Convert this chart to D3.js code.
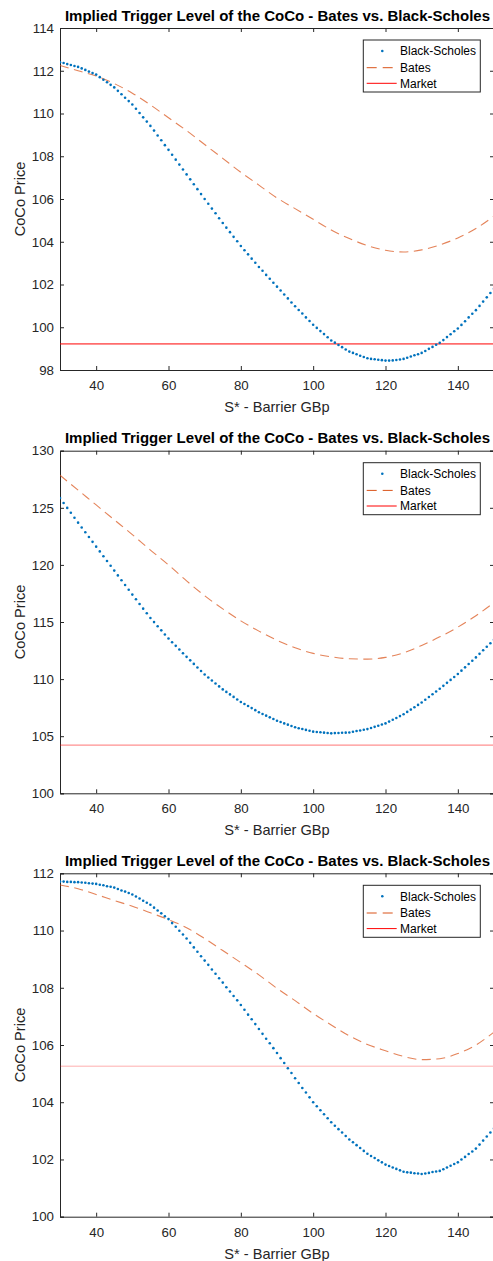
<!DOCTYPE html>
<html><head><meta charset="utf-8">
<script src="https://cdn.jsdelivr.net/npm/d3@7"></script>
<style>
html,body{margin:0;padding:0;background:#fff;}
svg{display:block;font-family:"Liberation Sans",Arial,Helvetica,sans-serif;}
</style></head>
<body>
<script>
// ---- data ----
const title = "Implied Trigger Level of the CoCo - Bates vs. Black-Scholes";
const xLabel = "S* - Barrier GBp";
const yLabel = "CoCo Price";
const seriesNames = ["Black-Scholes", "Bates", "Market"];
const bsX = d3.range(30, 151, 1);      // barrier grid for Black-Scholes dots
const batesX = d3.range(30, 151, 5);   // barrier grid for Bates curve
const xTicks = [40, 60, 80, 100, 120, 140];

const bs1 = [112.40,112.36,112.31,112.27,112.22, 112.18,112.11,112.04,111.96,111.89,
 111.82,111.70,111.58,111.46,111.34, 111.22,111.06,110.90,110.74,110.58,
 110.42,110.22,110.02,109.82,109.62, 109.42,109.20,108.97,108.75,108.52,
 108.30,108.07,107.84,107.61,107.38, 107.15,106.92,106.69,106.46,106.23,
 106.00,105.78,105.55,105.33,105.10, 104.88,104.66,104.45,104.23,104.02,
 103.80,103.60,103.41,103.21,103.02, 102.82,102.64,102.45,102.27,102.08,
 101.90,101.72,101.53,101.35,101.16, 100.98,100.81,100.64,100.46,100.29,
 100.12,99.97,99.82,99.68,99.53, 99.38,99.28,99.17,99.07,98.96,
 98.86,98.80,98.74,98.67,98.61, 98.55,98.52,98.50,98.48,98.46,
 98.44,98.44,98.45,98.47,98.49, 98.52,98.57,98.63,98.69,98.74,
 98.80,98.89,98.99,99.08,99.18, 99.27,99.40,99.54,99.67,99.81,
 99.94,100.11,100.28,100.46,100.63, 100.80,101.00,101.20,101.40,101.60, 101.80];
const bates1 = [112.25,112.00,111.75,111.40,110.95,110.40,109.80,109.20,108.55,107.90,107.25,106.65,
 106.05,105.55,105.05,104.55,104.15,103.82,103.60,103.52,103.62,103.85,104.18,104.62,105.20];
const market1 = 99.22;
const yTicks1 = [98,100,102,104,106,108,110,112,114];

const bs2 = [125.85,125.42,124.99,124.56,124.13, 123.70,123.28,122.86,122.44,122.02,
 121.60,121.18,120.76,120.34,119.92, 119.50,119.08,118.66,118.24,117.82,
 117.40,116.99,116.58,116.17,115.76, 115.35,114.99,114.63,114.27,113.91,
 113.55,113.23,112.91,112.59,112.27, 111.95,111.64,111.33,111.02,110.71,
 110.40,110.14,109.88,109.62,109.36, 109.10,108.88,108.66,108.44,108.22,
 108.00,107.82,107.64,107.46,107.28, 107.10,106.95,106.80,106.65,106.50,
 106.35,106.24,106.12,106.01,105.89, 105.78,105.70,105.63,105.55,105.48,
 105.40,105.37,105.34,105.31,105.28, 105.25,105.27,105.28,105.30,105.31,
 105.33,105.39,105.45,105.50,105.56, 105.62,105.72,105.82,105.92,106.02,
 106.12,106.28,106.44,106.60,106.76, 106.92,107.13,107.33,107.54,107.74,
 107.95,108.19,108.43,108.67,108.91, 109.15,109.41,109.67,109.93,110.19,
 110.45,110.74,111.03,111.32,111.61, 111.90,112.21,112.52,112.83,113.14, 113.45];
const bates2 = [127.85,126.55,125.25,123.95,122.65,121.30,120.00,118.60,117.30,116.15,115.10,114.20,
 113.40,112.75,112.25,111.95,111.78,111.75,111.90,112.30,112.95,113.70,114.55,115.55,116.70];
const market2 = 104.22;
const yTicks2 = [100,105,110,115,120,125,130];

const bs3 = [111.71,111.71,111.70,111.70,111.69, 111.69,111.68,111.67,111.65,111.64,
 111.63,111.60,111.58,111.55,111.53, 111.50,111.45,111.40,111.36,111.31,
 111.26,111.19,111.12,111.04,110.97, 110.90,110.80,110.70,110.60,110.50,
 110.40,110.26,110.13,109.99,109.86, 109.72,109.57,109.41,109.26,109.10,
 108.95,108.80,108.64,108.49,108.33, 108.18,108.02,107.87,107.71,107.56,
 107.40,107.23,107.06,106.90,106.73, 106.56,106.39,106.22,106.06,105.89,
 105.72,105.54,105.37,105.19,105.02, 104.84,104.67,104.50,104.34,104.17,
 104.00,103.86,103.72,103.58,103.44, 103.30,103.18,103.06,102.94,102.82,
 102.70,102.60,102.50,102.40,102.30, 102.20,102.12,102.05,101.97,101.90,
 101.82,101.77,101.72,101.67,101.62, 101.57,101.55,101.54,101.52,101.51,
 101.49,101.51,101.53,101.56,101.58, 101.60,101.66,101.72,101.78,101.84,
 101.90,102.00,102.09,102.19,102.28, 102.38,102.52,102.66,102.80,102.94, 103.08];
const bates3 = [111.59,111.46,111.26,111.05,110.85,110.62,110.38,110.10,109.72,109.30,108.88,108.45,
 107.98,107.55,107.10,106.70,106.32,106.02,105.80,105.60,105.49,105.52,105.70,106.00,106.45];
const market3 = 105.26;
const yTicks3 = [100,102,104,106,108,110,112];

// ---- layout / style ----
const W = 493, H = 1261;
const panels = [
  {bs: bs1, bates: bates1, market: market1, yTicks: yTicks1, top: 28,    bottom: 370,    mOp: 1.0},
  {bs: bs2, bates: bates2, market: market2, yTicks: yTicks2, top: 450.7, bottom: 793.3,  mOp: 0.55},
  {bs: bs3, bates: bates3, market: market3, yTicks: yTicks3, top: 873.3, bottom: 1216.7, mOp: 0.32}
];
const left = 60, right = 494;
const axisColor = "#262626";
const cBS = "#0072BD", cBates = "#D95319", cMarket = "#FF0000";

const svg = d3.select("body").append("svg").attr("width", W).attr("height", H);
const x = d3.scaleLinear().domain([30, 150]).range([left, right]);

panels.forEach((p, i) => {
  const yd = d3.extent(p.yTicks);
  const y = d3.scaleLinear().domain(yd).range([p.bottom, p.top]);
  const g = svg.append("g");
  const clipId = "clip" + i;
  g.append("clipPath").attr("id", clipId).append("rect")
    .attr("x", left).attr("y", p.top).attr("width", right - left).attr("height", p.bottom - p.top);

  // axes (box with inward ticks)
  const tl = 4;
  const axB = g.append("g").attr("transform", `translate(0,${p.bottom})`)
    .call(d3.axisBottom(x).tickValues(xTicks).tickSize(-tl).tickPadding(8));
  const axT = g.append("g").attr("transform", `translate(0,${p.top})`)
    .call(d3.axisTop(x).tickValues(xTicks).tickSize(-tl).tickFormat(""));
  const axL = g.append("g").attr("transform", `translate(${left},0)`)
    .call(d3.axisLeft(y).tickValues(p.yTicks).tickSize(-tl).tickPadding(6));
  const axR = g.append("g").attr("transform", `translate(${right},0)`)
    .call(d3.axisRight(y).tickValues(p.yTicks).tickSize(-tl).tickFormat(""));
  [axB, axT, axL, axR].forEach(a => {
    a.selectAll("path.domain").attr("stroke", axisColor).attr("stroke-width", 1);
    a.selectAll(".tick line").attr("stroke", axisColor).attr("stroke-width", 1);
    a.selectAll(".tick text").attr("fill", axisColor).style("font-size", "13.3px")
      .style("font-family", "'Liberation Sans',Arial,sans-serif");
  });
  axB.selectAll(".tick text").attr("dy", "0.9em");

  const plot = g.append("g").attr("clip-path", `url(#${clipId})`);
  // market
  plot.append("line").attr("x1", left).attr("x2", right)
    .attr("y1", y(p.market)).attr("y2", y(p.market))
    .attr("stroke", cMarket).attr("stroke-width", 1).attr("stroke-opacity", p.mOp);
  // bates
  const line = d3.line().x((d, j) => x(batesX[j])).y(d => y(d)).curve(d3.curveMonotoneX);
  plot.append("path").datum(p.bates).attr("d", line)
    .attr("fill", "none").attr("stroke", cBates).attr("stroke-width", 1.1)
    .attr("stroke-opacity", 0.72).attr("stroke-dasharray", "9,5.5");
  // black-scholes dots
  plot.selectAll("circle.bs").data(p.bs).enter().append("circle").attr("class", "bs")
    .attr("cx", (d, j) => x(bsX[j])).attr("cy", d => y(d)).attr("r", 1.3).attr("fill", cBS);

  // title
  g.append("text").attr("x", (left + right) / 2 + 0.5).attr("y", p.top - 7.5)
    .attr("text-anchor", "middle").attr("fill", "#000")
    .style("font-size", "15px").style("font-weight", "bold").text(title);
  // x label
  g.append("text").attr("x", (left + right) / 2).attr("y", p.bottom + 36.7)
    .attr("dy", "0.35em").attr("text-anchor", "middle").attr("fill", axisColor)
    .style("font-size", "14.6px").text(xLabel);
  // y label
  g.append("text").attr("transform", `translate(20,${(p.top + p.bottom) / 2}) rotate(-90)`)
    .attr("dy", "0.35em").attr("text-anchor", "middle").attr("fill", axisColor)
    .style("font-size", "14.6px").text(yLabel);

  // legend
  const lx = 363.3, ly = p.top + 12, lw = 117, lh = 52;
  const lg = g.append("g");
  lg.append("rect").attr("x", lx).attr("y", ly).attr("width", lw).attr("height", lh)
    .attr("fill", "#fff").attr("stroke", axisColor).attr("stroke-width", 1);
  const rows = [11, 27.7, 43.3];
  seriesNames.forEach((name, k) => {
    const ry = ly + rows[k];
    if (k === 0) {
      lg.append("circle").attr("cx", 382.3).attr("cy", ry).attr("r", 1.3).attr("fill", cBS);
    } else if (k === 1) {
      lg.append("line").attr("x1", 366.7).attr("x2", 396.7).attr("y1", ry).attr("y2", ry)
        .attr("stroke", cBates).attr("stroke-width", 1).attr("stroke-dasharray", "10,6");
    } else {
      lg.append("line").attr("x1", 366.7).attr("x2", 396.7).attr("y1", ry).attr("y2", ry)
        .attr("stroke", cMarket).attr("stroke-width", 1);
    }
    lg.append("text").attr("x", 400).attr("y", ry).attr("dy", "0.35em")
      .attr("fill", "#000").style("font-size", "12px").text(name);
  });
});
</script>
</body></html>
